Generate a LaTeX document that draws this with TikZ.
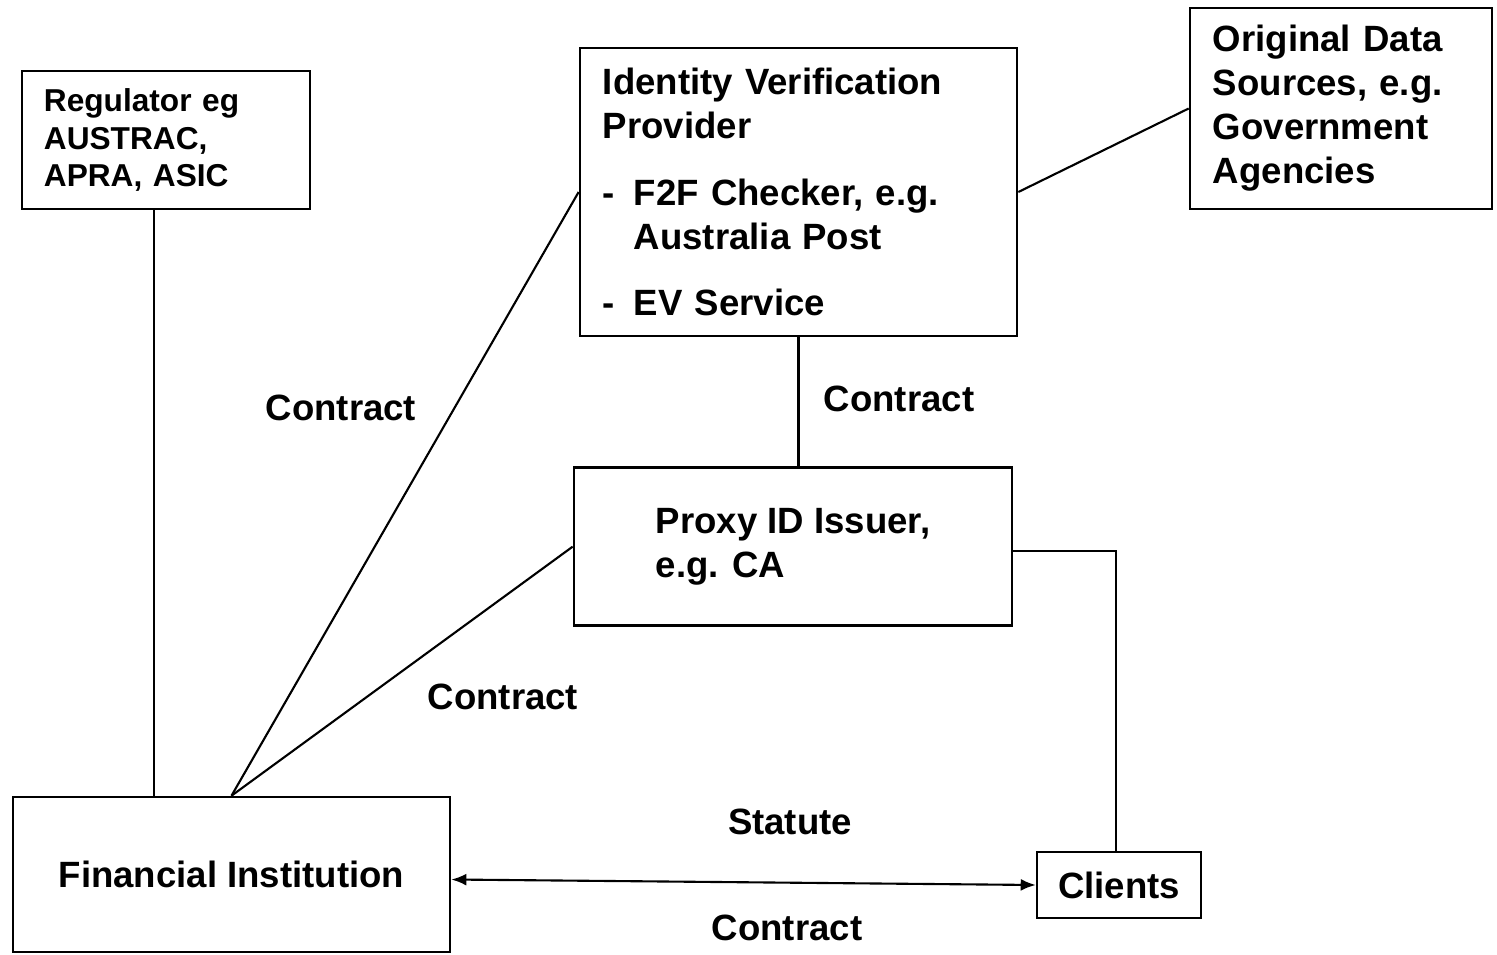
\documentclass[tikz,border=0pt]{standalone}
\usepackage{fontspec}
\setmainfont{Liberation Sans}
\usetikzlibrary{arrows.meta,positioning,calc}

\begin{document}
\begin{tikzpicture}[
  x=0.01cm, y=-0.01cm,
  every node/.style={font=\fontsize{10.4pt}{12.5pt}\selectfont\bfseries},
  party/.style={draw=black,line width=0.7pt,align=left,inner ysep=0pt},
  small/.style={font=\fontsize{9pt}{10.8pt}\selectfont\bfseries},
  tag/.style={inner sep=1pt},
  link/.style={line width=0.6pt},
  arrow/.style={{Latex[length=1.5mm,width=1.2mm]}-{Latex[length=1.5mm,width=1.2mm]},line width=0.6pt}
]
  \useasboundingbox (0,0) rectangle (1497,955);
  \node[party, small, minimum width=2.88cm, minimum height=1.38cm, text width=2.44cm, inner xsep=0.22cm] (regulator) at (166,140) {Regulator eg\\AUSTRAC,\\APRA, ASIC};
  \node[party, minimum width=4.37cm, minimum height=2.88cm, text width=3.91cm, inner xsep=0.23cm] (ivp) at (798.5,192) {Identity Verification\\Provider\\[6.5pt]\makebox[0.31cm][l]{-}F2F Checker, e.g.\\\hspace*{0.31cm}Australia Post\\[6.5pt]\makebox[0.31cm][l]{-}EV Service};
  \node[party, minimum width=3.02cm, minimum height=2.01cm, text width=2.56cm, inner xsep=0.23cm] (sources) at (1341,108.5) {Original Data\\Sources, e.g.\\Government\\Agencies};
  \node[party, minimum width=4.38cm, minimum height=1.58cm, below=1.29cm of ivp, xshift=-0.055cm] (proxy) {Proxy ID Issuer,\\e.g. CA};
  \node[party, minimum width=4.37cm, minimum height=1.55cm] (fi) at (231.5,874.5) {Financial Institution};
  \node[party, minimum width=1.64cm, minimum height=0.66cm] (clients) at (1119,885) {Clients};
  % labels on the links
  \node[tag] (contractivp) at (341,408) {Contract};
  \node[tag] (contractproxy) at (899,399) {Contract};
  \node[tag] (contractfi) at (503,697) {Contract};
  \node[tag] (statute) at (790,822) {Statute};
  \node[tag] (contractclients) at (787,928) {Contract};
  % links
  \draw[link] ([xshift=-0.12cm]regulator.south) -- ([xshift=-0.12cm]regulator.south |- fi.north);
  \draw[link] (fi.north) -- (ivp.west);
  \draw[link] (fi.north) -- (proxy.west);
  \draw[link] (ivp.south) -- (ivp.south |- proxy.north);
  \draw[link] (ivp.east) -- (sources.west);
  \draw[link] ([yshift=-0.04cm]proxy.east) -| ([xshift=-0.03cm]clients.north);
  \draw[arrow] ([yshift=-0.05cm]fi.east) -- (clients.west);
\end{tikzpicture}
\end{document}
